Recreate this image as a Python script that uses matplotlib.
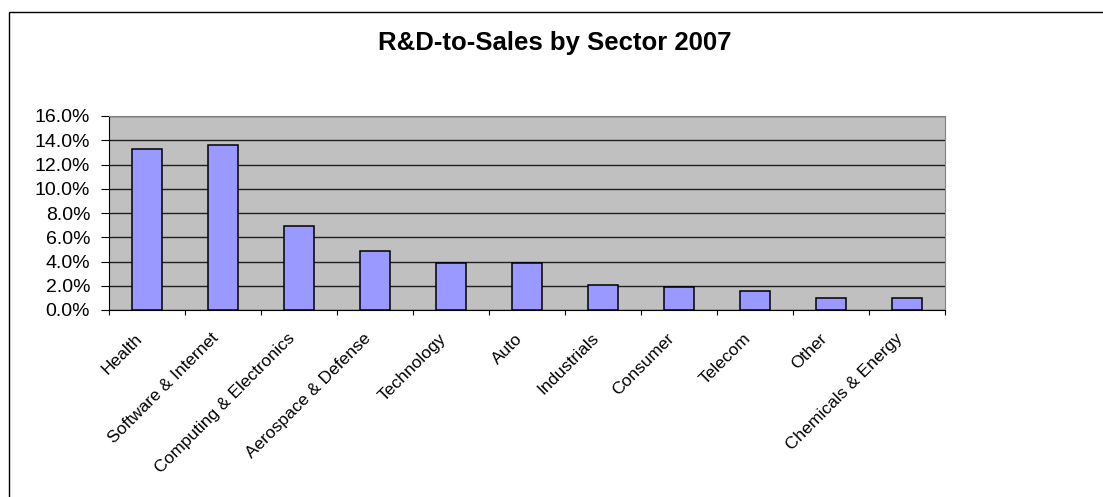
import matplotlib.pyplot as plt
from matplotlib.patches import Rectangle
from matplotlib.ticker import FuncFormatter, FixedLocator
import numpy as np

plt.rcParams['font.family'] = ['Liberation Sans', 'DejaVu Sans']

sectors = ["Health", "Software & Internet", "Computing & Electronics",
           "Aerospace & Defense", "Technology", "Auto", "Industrials",
           "Consumer", "Telecom", "Other", "Chemicals & Energy"]
rd_to_sales = [13.3, 13.6, 6.9, 4.9, 3.9, 3.9, 2.1, 1.9, 1.6, 1.0, 1.0]
yticks = [0, 2, 4, 6, 8, 10, 12, 14, 16]

W, H = 1103, 497
fig = plt.figure(figsize=(W / 100, H / 100), dpi=100)

# outer chart border (runs off right and bottom edges)
fig.patches.append(Rectangle((9 / W, -0.1), 1.2, 1 - 12 / H + 0.1,
                             transform=fig.transFigure, fill=False,
                             edgecolor="black", linewidth=1.0))

left, right, top, bottom = 109, 945, 116, 310
ax = fig.add_axes([left / W, 1 - bottom / H, (right - left) / W,
                   (bottom - top) / H])
ax.set_facecolor("#C0C0C0")

x = np.arange(len(sectors))
ax.bar(x, rd_to_sales, width=0.4, color="#9999FF", edgecolor="black",
       linewidth=1.1, zorder=3)

ax.set_xlim(-0.5, len(sectors) - 0.5)
ax.set_ylim(0, 16)
ax.set_yticks(yticks)
ax.yaxis.set_major_formatter(FuncFormatter(lambda v, p: "%.1f%%" % v))
ax.grid(axis="y", color="#202020", linewidth=1, zorder=1)

ax.xaxis.set_major_locator(FixedLocator(np.arange(-0.5, len(sectors), 1.0)))
ax.xaxis.set_major_formatter(FuncFormatter(lambda v, p: ""))
ax.tick_params(axis="x", direction="out", length=3.6, width=0.8, color="black")
ax.tick_params(axis="y", direction="out", length=5.5, width=0.8, color="black",
               labelsize=14, pad=8)

for i, name in enumerate(sectors):
    ax.text(i - 0.09, -26 / (bottom - top), name, rotation=45,
            rotation_mode="anchor", ha="right", va="center", fontsize=12.5,
            transform=ax.get_xaxis_transform())

for side in ["top", "right"]:
    ax.spines[side].set_color("#808080")
for side in ["left", "bottom"]:
    ax.spines[side].set_color("black")

fig.text(555 / W, 1 - 43 / H, "R&D-to-Sales by Sector 2007", ha="center",
         va="center", fontsize=18.5, fontweight="bold")

fig.savefig("out.png", dpi=100)
